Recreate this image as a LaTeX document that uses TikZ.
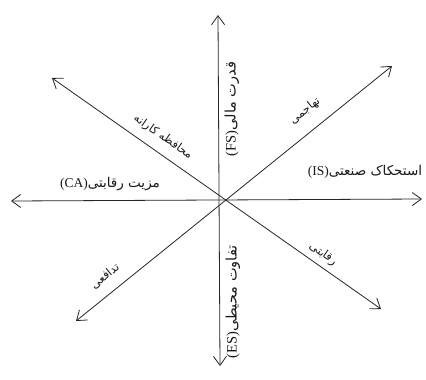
\documentclass[tikz,border=0pt]{standalone}
\usepackage{fontspec}
\setmainfont{Liberation Serif}
\newfontfamily\fa[Script=Arabic]{DejaVu Sans}
\TeXXeTstate=1
\usetikzlibrary{arrows.meta}
\begin{document}
\begin{tikzpicture}[x=1pt,y=-1pt,
  ax/.style={draw=black!85, line width=0.8pt,
    {Straight Barb[length=9pt,width=13pt]}-{Straight Barb[length=9pt,width=13pt]}},
  lab/.style={inner sep=1pt, text=black!90, font=\fontsize{13.5}{15}\selectfont},
  vlab/.style={inner sep=1pt, text=black!90, font=\fontsize{14.5}{16}\selectfont, rotate=90},
  dlab/.style={inner sep=1pt, text=black!90, font=\fontsize{11.5}{13}\selectfont}]
\useasboundingbox (0,0) rectangle (426,380);
\fill[white] (0,0) rectangle (426,380);
\coordinate (T) at (218,15);
\coordinate (B) at (220,366);
\coordinate (L) at (11,201);
\coordinate (R) at (422,199);
\coordinate (UL) at (52,78);
\coordinate (LR) at (381,309);
\coordinate (UR) at (392,66);
\coordinate (LL) at (76,321);
\draw[ax] (T) -- (B);
\draw[ax] (L) -- (R);
\draw[ax] (UL) -- (LR);
\draw[ax] (LL) -- (UR);
\node[vlab] (fs) at (232,109) {(FS){\fa\beginR قدرت مالی\endR}};
\node[vlab] (es) at (233,302) {(ES){\fa\beginR تفاوت محیطی\endR}};
\node[lab] (is) at (365,172) {(IS){\fa\beginR استحکاک صنعتی\endR}};
\node[lab] (ca) at (110,184) {(CA){\fa\beginR مزیت رقابتی\endR}};
\node[dlab, rotate=-35] (cons) at (163,137) {\fa\beginR محافظه کارانه\endR};
\node[dlab, rotate=38.7] (agg) at (305,111) {\fa\beginR تهاجمی\endR};
\node[dlab, rotate=39] (def) at (105,276) {\fa\beginR تدافعی\endR};
\node[dlab, rotate=-35] (comp) at (323,254) {\fa\beginR رقابتی\endR};
\end{tikzpicture}
\end{document}
